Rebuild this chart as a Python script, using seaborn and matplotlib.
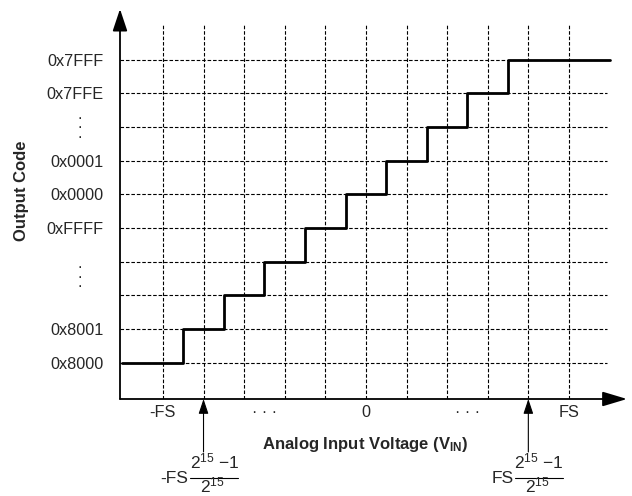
import matplotlib
matplotlib.use("Agg")
import matplotlib.pyplot as plt
import seaborn as sns
import pandas as pd

# ---- data ----
code_levels = [1, 2, 3, 4, 5, 6, 7, 8, 9, 10]
code_labels = ["0x8000", "0x8001", "", "", "0xFFFF", "0x0000", "0x0001", "", "0x7FFE", "0x7FFF"]
grid_x = [1, 2, 3, 4, 5, 6, 7, 8, 9, 10, 11]
step_x = [0, 1.5, 2.5, 3.5, 4.5, 5.5, 6.5, 7.5, 8.5, 9.5, 12]
step_y = [1, 2, 3, 4, 5, 6, 7, 8, 9, 10, 10]
xtick_pos = [1, 3.5, 6, 8.5, 11]
xtick_labels = ["-FS", "· · ·", "0", "· · ·", "FS"]
ydots_pos = [8.1, 3.66]
marker_x = [2, 10]
marker_prefix = ["-FS", "FS"]
frac_num = "2$^{15}$ \u22121"
frac_den = "2$^{15}$"

sns.set_style("white")
plt.rcParams["font.family"] = ["Liberation Sans", "DejaVu Sans"]
plt.rcParams["mathtext.fontset"] = "custom"
plt.rcParams["mathtext.rm"] = "Liberation Sans"
plt.rcParams["mathtext.it"] = "Liberation Sans"
plt.rcParams["mathtext.bf"] = "Liberation Sans:bold"
plt.rcParams["mathtext.default"] = "regular"

fig = plt.figure(figsize=(6.32, 4.96), dpi=100)
ax = fig.add_axes([120 / 632, 97 / 496, 507 / 632, 390 / 496])
ax.set_xlim(-0.057, 12.43)
ax.set_ylim(-0.077, 11.51)
for s in ax.spines.values():
    s.set_visible(False)

# grid
dash = (0, (3.2, 1.7))
ax.vlines(grid_x, -0.077, 11.06, colors="black", lw=0.8, linestyles=dash, zorder=1)
ax.hlines(code_levels, -0.057, 11.94, colors="black", lw=0.8, linestyles=dash, zorder=1)

# staircase
df = pd.DataFrame({"x": step_x, "y": step_y})
sns.lineplot(data=df, x="x", y="y", drawstyle="steps-post", color="black",
             lw=2.0, estimator=None, ax=ax, zorder=3)

# axes with arrows
ax.annotate("", xy=(0, 1), xytext=(0, 0), xycoords="axes fraction",
            arrowprops=dict(arrowstyle="-|>,head_length=0.9,head_width=0.3",
                            mutation_scale=15, lw=1.3, color="black",
                            shrinkA=0, shrinkB=0))
ax.annotate("", xy=(1, 0), xytext=(0, 0), xycoords="axes fraction",
            arrowprops=dict(arrowstyle="-|>,head_length=1.0,head_width=0.3",
                            mutation_scale=15, lw=1.3, color="black",
                            shrinkA=0, shrinkB=0))

# ticks
ax.set_yticks(code_levels)
ax.set_yticklabels(code_labels, fontsize=11.7)
ax.set_xticks(xtick_pos)
ax.set_xticklabels(xtick_labels, fontsize=11.7)
ax.tick_params(axis="y", length=0, pad=12)
ax.tick_params(axis="x", length=0, pad=4)

for yd in ydots_pos:
    ax.text(-1.04, yd, ".\n.\n.", ha="center", va="center", fontsize=11.7,
            linespacing=0.55, clip_on=False)

ax.set_xlabel(r"Analog Input Voltage (V$_{\mathbf{IN}}$)", fontsize=12,
              fontweight="bold", labelpad=0)
ax.xaxis.set_label_coords((365.5 - 120) / 507, -(444 - 399) / 390)
ax.xaxis.label.set_va("center")
ax.set_ylabel("Output Code", fontsize=12, fontweight="bold")
ax.yaxis.set_label_coords((21 - 120) / 507, (399 - 191) / 390)
ax.yaxis.label.set_va("center")

# marker arrows and fraction labels
for mx, pre in zip(marker_x, marker_prefix):
    ax.annotate("", xy=(mx, -0.077), xytext=(mx, -1.65), xycoords="data",
                arrowprops=dict(arrowstyle="-|>,head_length=0.6,head_width=0.2",
                                mutation_scale=15, lw=0.8, color="black",
                                shrinkA=0, shrinkB=0),
                annotation_clip=False)
    ax.text(mx - 0.37, -2.57, pre, ha="right", va="baseline", fontsize=12.5,
            clip_on=False)
    ax.plot([mx - 0.34, mx + 0.86], [-2.42, -2.42], color="black", lw=0.8,
            clip_on=False)
    ax.text(mx + 0.27, -2.13, frac_num, ha="center", va="baseline", fontsize=12.5,
            clip_on=False)
    ax.text(mx + 0.23, -2.86, frac_den, ha="center", va="baseline", fontsize=12.5,
            clip_on=False)

fig.savefig("out.png", dpi=100)
